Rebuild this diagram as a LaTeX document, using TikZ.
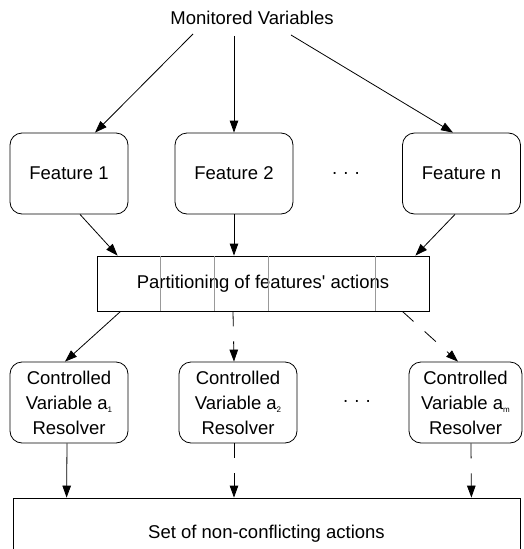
\documentclass[tikz,border=0pt]{standalone}
\usepackage{fontspec}
\setmainfont{Liberation Sans}
\usetikzlibrary{arrows.meta}
\tikzset{
  featbox/.style={draw, rounded corners=12pt, minimum width=118pt, minimum height=81pt, inner sep=0pt, line width=0.8pt},
  resbox/.style={featbox, align=center},
  flatbox/.style={draw, inner sep=0pt, line width=0.8pt},
  conn/.style={-{Triangle[length=12pt,width=8.5pt]}, line width=0.8pt},
  dashconn/.style={conn, dash pattern=on 15pt off 15pt},
  divider/.style={black!40, line width=0.7pt},
}
\newcommand{\sub}[1]{\raisebox{-3pt}{\fontsize{8}{8}\selectfont #1}}

\begin{document}
\begin{tikzpicture}[x=1pt, y=-1pt, every node/.style={font=\fontsize{18.5}{25}\selectfont}]
  \useasboundingbox (0,0) rectangle (524,549);

  % --- Top: monitored variables and features ---
  \node[inner sep=0pt] (mon) at (252,18) {Monitored Variables};
  \node[featbox] (f1) at (69,173.5) {Feature 1};
  \node[featbox] (f2) at (234,173.5) {Feature 2};
  \node[featbox] (fn) at (461.5,173.5) {Feature n};
  \node (fdots) at (346,175) {· · ·};

  \draw[conn] ([xshift=-59pt,yshift=-9pt]mon.south) -- ([xshift=26pt]f1.north);
  \draw[conn] ([xshift=-18pt,yshift=-11pt]mon.south) -- (f2.north);
  \draw[conn] ([xshift=39pt,yshift=-10pt]mon.south) -- ([xshift=-8.5pt]fn.north);

  % --- Middle: partitioning ---
  \node[flatbox, minimum width=332pt, minimum height=55pt] (part) at (263,283.5) {Partitioning of features\textquotesingle\ actions};
  \foreach \dx in {64,118,172,279}
    \draw[divider] ([xshift=\dx pt]part.north west) -- ([xshift=\dx pt]part.south west);

  \draw[conn] ([xshift=11pt]f1.south) -- ([xshift=21pt]part.north west);
  \draw[conn] (f2.south) -- (f2.south |- part.north);
  \draw[conn] ([xshift=-6.5pt]fn.south) -- ([xshift=-14pt]part.north east);

  % --- Resolvers ---
  \node[resbox] (r1) at (69,402.5) {Controlled\\Variable a\sub{1}\\Resolver};
  \node[resbox] (r2) at (238,402.5) {Controlled\\Variable a\sub{2}\\Resolver};
  \node[resbox, minimum width=113pt] (rm) at (465.5,402.5) {Controlled\\Variable a\sub{m}\\Resolver};
  \node (rdots) at (357,403) {· · ·};

  \draw[conn] ([xshift=24pt]part.south west) -- ([xshift=-4pt]r1.north);
  \draw[dashconn] ([xshift=-30pt]part.south) -- ([xshift=-4pt]r2.north);
  \draw[dashconn] ([xshift=-27pt]part.south east) -- ([xshift=-7.5pt]rm.north);

  % --- Bottom: result ---
  \node[flatbox, minimum width=507pt, minimum height=72pt] (set) at (266.5,534) {Set of non-conflicting actions};

  \draw[conn] ([xshift=-2pt]r1.south) -- ([xshift=54pt]set.north west);
  \draw[dashconn] ([xshift=-4pt]r2.south) -- ([xshift=-32.5pt]set.north);
  \draw[dashconn] ([xshift=5.5pt]rm.south) -- ([xshift=-49pt]set.north east);
\end{tikzpicture}
\end{document}
